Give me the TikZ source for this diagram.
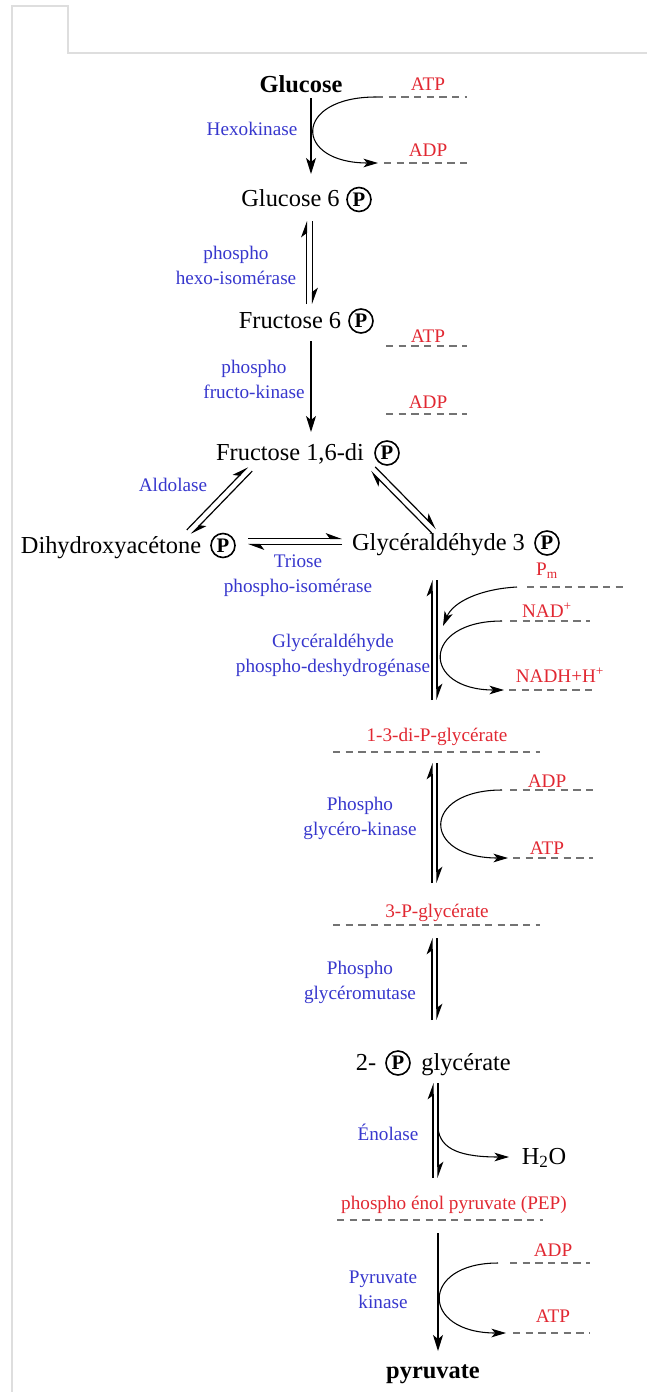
\documentclass[tikz,border=0pt]{standalone}
\usepackage{fontspec}
\setmainfont{Liberation Serif}
\usetikzlibrary{arrows.meta,calc}
\definecolor{enz}{RGB}{55,55,205}
\definecolor{cof}{RGB}{225,40,50}
\definecolor{dashc}{RGB}{115,115,115}
\definecolor{framec}{RGB}{222,222,222}
\tikzset{
  mol/.style={inner sep=0pt, anchor=base, font=\fontsize{18.3}{21}\selectfont},
  bmol/.style={inner sep=0pt, anchor=base, font=\fontsize{18.3}{21}\selectfont\bfseries},
  enzyme/.style={inner sep=0pt, text=enz, align=center, font=\fontsize{14.4}{18.6}\selectfont},
  cofac/.style={inner sep=0pt, text=cof, font=\fontsize{14.4}{17}\selectfont},
  phos/.style={circle, draw, line width=1.2pt, inner sep=0pt, minimum size=18pt, font=\fontsize{15.5}{16}\selectfont\bfseries},
  dashline/.style={draw=dashc, line width=0.9pt, dash pattern=on 5.5pt off 4pt},
  rxn/.style={line width=0.9pt, -{Stealth[length=12pt,width=7.5pt,inset=3pt]}},
  eqline/.style={line width=0.9pt, -{Stealth[harpoon,length=11pt,width=8pt,inset=3pt]}},
  curv/.style={line width=0.8pt, -{Stealth[length=11pt,width=6.5pt,inset=3pt]}},
  framel/.style={draw=framec, line width=1pt}
}
\newcommand\eqpair[3]{%
  \draw[eqline] ($(#1)!#3!90:(#2)$) -- ($(#2)!#3!-90:(#1)$);
  \draw[eqline] ($(#2)!#3!90:(#1)$) -- ($(#1)!#3!-90:(#2)$);
}
\begin{document}
\begin{tikzpicture}[x=0.75pt,y=-0.75pt]
\useasboundingbox (0,0) rectangle (647,1392);
% page frame
\coordinate (fa) at (12,1392); \coordinate (fb) at (12,6);
\coordinate (fc) at (68,6); \coordinate (fd) at (68,53); \coordinate (fe) at (647,53);
\draw[framel] (fa) -- (fb) -- (fc) -- (fd) -- (fe);

% ---- Glucose -> Glucose 6P
\node[bmol] (glc) at (301,92) {Glucose};
\node[cofac] (atp1) at (428,84) {ATP};
\coordinate (d1a) at (376,97); \coordinate (d1b) at (467,97);
\draw[dashline] (d1a) -- (d1b);
\node[enzyme] (hk) at (252,129) {Hexokinase};
\node[cofac] (adp1) at (428,150) {ADP};
\coordinate (d2a) at (384,163); \coordinate (d2b) at (467,163);
\coordinate (c1e) at (378,163);
\draw[dashline] (d2a) -- (d2b);
\node[mol] (g6) at (290.5,206) {Glucose 6};
\node[phos] (g6p) at (359,199.5) {P};
\coordinate (a1s) at (311,98); \coordinate (a1e) at (311,174);
\draw[rxn] (a1s) -- (a1e);
\draw[curv] (d1a) .. controls (293,97) and (293,163) .. (c1e);

% ---- Glucose 6P <-> Fructose 6P
\coordinate (e1b) at (309.5,304); \coordinate (e1t) at (309.5,221);
\eqpair{e1b}{e1t}{2.3pt}
\node[enzyme] (phi) at (236,265.5) {phospho\\hexo-isomérase};
\node[mol] (f6) at (290,328) {Fructose 6};
\node[phos] (f6p) at (361,321) {P};

% ---- Fructose 6P -> Fructose 1,6-diP
\node[cofac] (atp2) at (428,336) {ATP};
\coordinate (d3a) at (386,346); \coordinate (d3b) at (467,346);
\draw[dashline] (d3a) -- (d3b);
\coordinate (a2s) at (311,341); \coordinate (a2e) at (311,432);
\draw[rxn] (a2s) -- (a2e);
\node[enzyme] (pfk) at (254,379.5) {phospho\\fructo-kinase};
\node[cofac] (adp2) at (428,402) {ADP};
\coordinate (d4a) at (386,414); \coordinate (d4b) at (467,414);
\draw[dashline] (d4a) -- (d4b);
\node[mol] (f16) at (290,460) {Fructose 1,6-di};
\node[phos] (f16p) at (387,453) {P};

% ---- Aldolase
\node[enzyme] (ald) at (173,485) {Aldolase};
\coordinate (e2a) at (189,532); \coordinate (e2b) at (250,469);
\eqpair{e2a}{e2b}{2.3pt}
\coordinate (e3a) at (434,531); \coordinate (e3b) at (373,469);
\eqpair{e3a}{e3b}{2.3pt}
\node[mol] (dhap) at (111,553) {Dihydroxyacétone};
\node[phos] (dhapp) at (223,545.5) {P};
\node[mol] (g3p) at (438.5,550) {Glycéraldéhyde 3};
\node[phos] (g3pp) at (547,543) {P};

% ---- Triose phospho-isomerase
\coordinate (e4a) at (248,541.5); \coordinate (e4b) at (342,541.5);
\eqpair{e4a}{e4b}{2.3pt}
\node[enzyme] (tpi) at (298,575.5) {Triose\\phospho-isomérase};

% ---- GAPDH
\node[cofac] (pm) at (547,571) {P\textsubscript{m}};
\coordinate (d5a) at (527,587); \coordinate (d5b) at (623,587);
\draw[dashline] (d5a) -- (d5b);
\coordinate (c2s) at (517,587); \coordinate (c2e) at (443,626);
\node[cofac] (nad) at (547,610) {NAD\textsuperscript{+}};
\coordinate (d6a) at (510,621); \coordinate (d6b) at (590,621);
\draw[dashline] (d6a) -- (d6b);
\coordinate (c3s) at (502,621); \coordinate (c3e) at (504,690);
\node[enzyme] (gapdh) at (333,655.5) {Glycéraldéhyde\\phospho-deshydrogénase};
\node[cofac] (nadh) at (560,675) {NADH+H\textsuperscript{+}};
\coordinate (d7a) at (509,690); \coordinate (d7b) at (593,690);
\draw[dashline] (d7a) -- (d7b);
\coordinate (e5b) at (434.5,700); \coordinate (e5t) at (434.5,580);
\eqpair{e5b}{e5t}{1.9pt}
\draw[curv] (c2s) .. controls (480,589) and (453,602) .. (c2e);
\draw[curv] (c3s) .. controls (421,621) and (421,690) .. (c3e);

\node[cofac] (bpg) at (437,737) {1-3-di-P-glycérate};
\coordinate (d8a) at (333,752); \coordinate (d8b) at (540,752);
\draw[dashline] (d8a) -- (d8b);

% ---- PGK
\coordinate (e6b) at (434.5,883); \coordinate (e6t) at (434.5,763);
\eqpair{e6b}{e6t}{1.9pt}
\node[enzyme] (pgk) at (360,818.5) {Phospho\\glycéro-kinase};
\node[cofac] (adp3) at (547,781) {ADP};
\coordinate (d9a) at (510,790); \coordinate (d9b) at (593,790);
\draw[dashline] (d9a) -- (d9b);
\node[cofac] (atp3) at (547,848) {ATP};
\coordinate (d10a) at (513,858); \coordinate (d10b) at (593,858);
\draw[dashline] (d10a) -- (d10b);
\coordinate (c4s) at (502,790); \coordinate (c4e) at (508,858);
\draw[curv] (c4s) .. controls (421,790) and (421,858) .. (c4e);

\node[cofac] (pg3) at (437,913) {3-P-glycérate};
\coordinate (d11a) at (333,925); \coordinate (d11b) at (540,925);
\draw[dashline] (d11a) -- (d11b);

% ---- PGM
\coordinate (e7b) at (434.5,1020); \coordinate (e7t) at (434.5,938);
\eqpair{e7b}{e7t}{1.9pt}
\node[enzyme] (pgm) at (360,982.5) {Phospho\\glycéromutase};
\node[mol] (pg2a) at (366,1070) {2-};
\node[phos] (pg2p) at (398,1063) {P};
\node[mol] (pg2b) at (466,1070) {glycérate};

% ---- Enolase
\coordinate (e8b) at (435.5,1178); \coordinate (e8t) at (435.5,1083);
\eqpair{e8b}{e8t}{1.9pt}
\node[enzyme] (eno) at (388,1132) {Énolase};
\node[mol] (h2o) at (544,1164) {H\textsubscript{2}O};
\coordinate (c5s) at (438,1128); \coordinate (c5e) at (509,1157);
\draw[curv] (c5s) .. controls (440,1150) and (462,1157) .. (c5e);

\node[cofac] (pep) at (454,1205) {phospho énol pyruvate (PEP)};
\coordinate (d12a) at (337,1220); \coordinate (d12b) at (543,1220);
\draw[dashline] (d12a) -- (d12b);

% ---- Pyruvate kinase
\coordinate (a3s) at (438,1233); \coordinate (a3e) at (438,1351);
\draw[rxn] (a3s) -- (a3e);
\node[enzyme] (pk) at (383,1290) {Pyruvate\\kinase};
\node[cofac] (adp4) at (553,1250) {ADP};
\coordinate (d13a) at (510,1263); \coordinate (d13b) at (590,1263);
\draw[dashline] (d13a) -- (d13b);
\node[cofac] (atp4) at (553,1316) {ATP};
\coordinate (d14a) at (513,1333); \coordinate (d14b) at (590,1333);
\draw[dashline] (d14a) -- (d14b);
\coordinate (c6s) at (498,1263); \coordinate (c6e) at (506,1333);
\draw[curv] (c6s) .. controls (420,1263) and (420,1333) .. (c6e);
\node[bmol] (pyr) at (433,1378) {pyruvate};
\end{tikzpicture}
\end{document}
